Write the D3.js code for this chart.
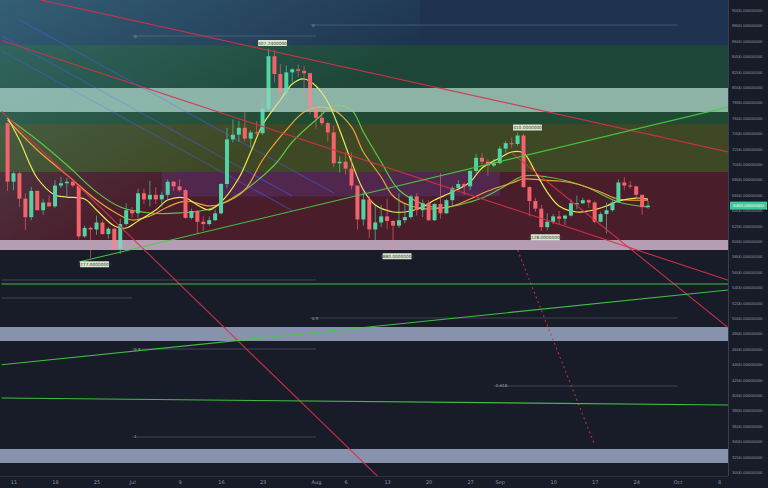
<!DOCTYPE html>
<html><head><meta charset="utf-8">
<script src="https://cdnjs.cloudflare.com/ajax/libs/d3/7.8.5/d3.min.js"></script>
<style>body{margin:0;background:#171b27;} svg{display:block}</style>
</head><body><svg id="c" width="768" height="488"></svg>
<script>
// ---------- DATA ----------
const dates = [
"06-10","06-11","06-12","06-13","06-14","06-15","06-16","06-17","06-18","06-19","06-20","06-21","06-22","06-23","06-24","06-25","06-26","06-27","06-28","06-29","06-30",
"07-01","07-02","07-03","07-04","07-05","07-06","07-07","07-08","07-09","07-10","07-11","07-12","07-13","07-14","07-15","07-16","07-17","07-18","07-19","07-20","07-21","07-22","07-23","07-24","07-25","07-26","07-27","07-28","07-29","07-30","07-31",
"08-01","08-02","08-03","08-04","08-05","08-06","08-07","08-08","08-09","08-10","08-11","08-12","08-13","08-14","08-15","08-16","08-17","08-18","08-19","08-20","08-21","08-22","08-23","08-24","08-25","08-26","08-27","08-28","08-29","08-30","08-31",
"09-01","09-02","09-03","09-04","09-05","09-06","09-07","09-08","09-09","09-10","09-11","09-12","09-13","09-14","09-15","09-16","09-17","09-18","09-19","09-20","09-21","09-22","09-23","09-24","09-25","09-26"];
const opens = [
7530,6770,6880,6550,6310,6650,6400,6500,6450,6720,6750,6770,6720,6060,6170,6150,6240,6090,6160,5900,6220,
6400,6360,6620,6540,6600,6540,6600,6770,6710,6660,6300,6390,6250,6220,6270,6360,6740,7320,7380,7470,7330,7410,7400,7720,8400,8170,7930,8190,8230,8210,8180,
7730,7600,7530,7410,7010,7030,6940,6720,6280,6540,6150,6240,6320,6260,6200,6270,6310,6580,6400,6490,6270,6480,6360,6530,6690,6740,6710,6910,7080,7030,6980,
7010,7200,7270,7260,7370,6700,6520,6420,6180,6250,6320,6290,6330,6490,6490,6530,6500,6250,6350,6400,6500,6760,6720,6710,6600,6440];
const highs = [
7540,6900,6900,6620,6700,6660,6540,6590,6790,6830,6820,6800,6740,6200,6190,6330,6280,6180,6170,6290,6490,
6440,6680,6680,6780,6700,6640,6800,6780,6800,6680,6420,6400,6320,6320,6410,6750,7470,7580,7560,7690,7440,7560,7800,8500,8480,8300,8280,8240,8290,8270,8180,
7760,7710,7540,7500,7100,7160,7150,6720,6630,6580,6480,6470,6550,6270,6620,6480,6600,6620,6540,6530,6490,6880,6550,6710,6790,6760,6920,7130,7140,7060,7070,
7230,7300,7340,7410,7390,6710,6560,6470,6360,6350,6390,6340,6540,6590,6560,6540,6520,6380,6500,6530,6800,6830,6780,6720,6600,6520];
const lows = [
6650,6660,6440,6140,6270,6400,6340,6450,6430,6690,6560,6700,6020,6040,5780,6080,6080,6030,5880,5830,6200,
6300,6300,6480,6450,6480,6450,6520,6650,6640,6290,6280,6100,6130,6200,6260,6340,6690,7280,7290,7290,7220,7380,7380,7700,8060,7860,7800,8060,8130,7860,7650,
7460,7500,7290,6960,6890,6860,6670,6150,6200,6040,6010,6180,6160,5880,6170,6230,6290,6330,6310,6260,6260,6290,6350,6460,6670,6600,6660,6880,6980,6850,6960,
7000,7150,7210,7240,6690,6320,6380,6130,6140,6220,6220,6210,6320,6410,6480,6430,6230,6240,6100,6380,6500,6660,6680,6560,6340,6420];
const closes = [
6770,6880,6550,6310,6650,6400,6500,6450,6720,6750,6770,6720,6060,6170,6150,6240,6090,6160,5900,6220,6400,
6360,6620,6540,6600,6540,6600,6770,6710,6660,6300,6390,6250,6220,6270,6360,6740,7320,7380,7470,7330,7410,7400,7720,8400,8170,7930,8190,8230,8210,8180,7730,
7600,7530,7410,7010,7030,6940,6720,6280,6540,6150,6240,6320,6260,6200,6270,6310,6580,6400,6490,6270,6480,6360,6530,6690,6740,6710,6910,7080,7030,6980,7010,
7200,7270,7260,7370,6700,6520,6420,6180,6250,6320,6290,6330,6490,6490,6530,6500,6250,6350,6400,6500,6760,6720,6710,6600,6440,6460];

// moving averages
const maYellowDates = ["06-10","06-12","06-15","06-18","06-20","06-23","06-25","06-28","06-30","07-02","07-05","07-07","07-10","07-12","07-14","07-16","07-19","07-21","07-23","07-26","07-28","07-30","08-01","08-03","08-05","08-07","08-09","08-11","08-14","08-16","08-19","08-21","08-24","08-27","08-29","09-01","09-03","09-05","09-07","09-09","09-11","09-14","09-16","09-19","09-21","09-24","09-26"];
const maYellowVals = [7600,7312,6818,6597,6571,6545,6403,6195,6169,6260,6403,6532,6558,6467,6403,6506,6818,7156,7506,7831,8039,8104,8013,7805,7442,7026,6662,6467,6377,6377,6442,6532,6636,6766,6948,7078,7156,7143,6896,6636,6455,6377,6390,6455,6519,6558,6545];
const maOrangeDates = ["06-10","06-15","06-20","06-25","06-28","07-01","07-04","07-07","07-10","07-14","07-16","07-20","07-23","07-27","07-30","08-02","08-04","08-07","08-09","08-12","08-14","08-17","08-20","08-24","08-27","08-30","09-03","09-05","09-08","09-11","09-14","09-18","09-21","09-26"];
const maOrangeVals = [7571,7182,6857,6532,6377,6273,6325,6442,6519,6455,6481,6662,7052,7442,7675,7740,7701,7481,7156,6831,6584,6455,6416,6455,6545,6649,6753,6805,6792,6779,6740,6636,6545,6532];
const maGreenDates = ["06-10","06-15","06-20","06-25","06-29","07-04","07-09","07-14","07-19","07-25","07-28","08-01","08-04","08-07","08-09","08-12","08-15","08-19","08-22","08-25","08-29","09-01","09-05","09-09","09-13","09-16","09-21","09-26"];
const maGreenVals = [7598,7312,6987,6636,6442,6364,6364,6416,6610,6987,7286,7571,7753,7701,7416,7026,6662,6481,6429,6467,6558,6675,6844,6831,6766,6688,6506,6442];

// price zones [top, bottom]
const zoneTops    = [9200,8545,7987,7675,7519,6896,6013];
const zoneBottoms = [8545,7987,7675,7519,6896,6013,5883];
const zoneColors  = ["#1d3350","#1d4638","#6f988c","#214a34","#3f4824","#4a1d2b","#9a8498"];
const bandTops    = [4883,3299];
const bandBottoms = [4701,3117];

// trend lines: [date1, price1, date2, price2]
const redLines = [
  ["2018-06-15",9140,"2018-10-10",7150],
  ["2018-06-09",8604,"2018-10-10",5480],
  ["2018-06-09",7682,"2018-08-15",2675],
  ["2018-09-03",7143,"2018-10-10",4844]
];
const redDotted = ["2018-09-04",5883,"2018-09-17",3351];
const greenLines = [
  ["2018-06-22",5727,"2018-10-10",7748],
  ["2018-06-09",4392,"2018-10-10",5368],
  ["2018-06-09",5442,"2018-10-10",5442],
  ["2018-06-09",3961,"2018-10-10",3870]
];
const blueLines = [
  ["2018-06-09",8468,"2018-07-28",6396],
  ["2018-06-09",8662,"2018-07-28",6584],
  ["2018-06-12",8870,"2018-08-04",6623]
];
// fib levels: [startDate, endDate, price, label]
const fibLevels = [
  ["2018-07-31","2018-10-01",8805,"0"],
  ["2018-07-01","2018-08-01",8662,"0"],
  ["2018-06-09","2018-08-01",5494,""],
  ["2018-06-09","2018-07-01",5260,""],
  ["2018-07-31","2018-10-01",5000,"0.5"],
  ["2018-07-01","2018-08-01",4597,"0.5"],
  ["2018-08-31","2018-10-01",4117,"0.618"],
  ["2018-07-01","2018-08-01",3455,"1"],
  ["2018-08-31","2018-10-01",3221,"1"]
];
const extremeLabels = [
  ["07-24",8507.24,"8507.24000000","top"],
  ["09-05",7410.00,"7410.00000000","top"],
  ["06-24",5777.00,"5777.00000000","bottom"],
  ["08-14",5880.00,"5880.00000000","bottom"],
  ["09-08",6128.00,"6128.00000000","bottom"]
];
const yTicks = d3.range(3000, 9001, 200);
const xTickDates = ["2018-06-11","2018-06-18","2018-06-25","2018-07-01","2018-07-09","2018-07-16","2018-07-23","2018-08-01","2018-08-06","2018-08-13","2018-08-20","2018-08-27","2018-09-01","2018-09-10","2018-09-17","2018-09-24","2018-10-01","2018-10-08"];
const xTickLabels = ["11","18","25","Jul","9","16","23","Aug","6","13","20","27","Sep","10","17","24","Oct","8"];

// ---------- CHART ----------
const W = 768, H = 488, PW = 728, PH = 476;
const parse = d3.utcParse("%Y-%m-%d");
const pd = s => parse(s.length === 5 ? "2018-" + s : s);
const svg = d3.select("#c");
const x = d3.scaleUtc().domain([pd("2018-06-11"), pd("2018-10-08")]).range([13.5, 719.2]);
const y = d3.scaleLinear().domain([3000, 9000]).range([472, 10]);

svg.append("rect").attr("width", W).attr("height", H).attr("fill", "#181c29");
const defs = svg.append("defs");
defs.append("clipPath").attr("id", "clip").append("rect").attr("width", PW).attr("height", PH);
const gr = defs.append("linearGradient").attr("id", "tealg").attr("x1", 0).attr("y1", 0).attr("x2", 1).attr("y2", 1);
gr.append("stop").attr("offset", "0%").attr("stop-color", "#5fb0b8").attr("stop-opacity", 0.35);
gr.append("stop").attr("offset", "60%").attr("stop-color", "#5fb0b8").attr("stop-opacity", 0.0);

const plot = svg.append("g").attr("clip-path", "url(#clip)");
plot.selectAll(".zone").data(zoneTops).join("rect")
  .attr("x", 0).attr("width", PW)
  .attr("y", d => y(d)).attr("height", (d, i) => y(zoneBottoms[i]) - y(d))
  .attr("fill", (d, i) => zoneColors[i]);
plot.append("rect").attr("x", 0).attr("y", 0).attr("width", 420).attr("height", 240).attr("fill", "url(#tealg)");
plot.append("rect").attr("x", x(pd("2018-07-06"))).attr("width", x(pd("2018-09-01")) - x(pd("2018-07-06")))
  .attr("y", y(6896)).attr("height", y(6580) - y(6896)).attr("fill", "#6a46b8").attr("opacity", 0.25);

const seg = (g, l, color, w, dash, op) => g.append("line")
  .attr("x1", x(pd(l[0]))).attr("y1", y(l[1])).attr("x2", x(pd(l[2]))).attr("y2", y(l[3]))
  .attr("stroke", color).attr("stroke-width", w).attr("stroke-dasharray", dash || null).attr("opacity", op || 1);

blueLines.forEach(l => seg(plot, l, "#4a5ad8", 1.2, null, 0.5));

fibLevels.forEach(f => {
  plot.append("line").attr("x1", x(pd(f[0]))).attr("x2", x(pd(f[1])))
    .attr("y1", y(f[2])).attr("y2", y(f[2])).attr("stroke", "#8a8f9c").attr("stroke-width", 0.6).attr("opacity", 0.6);
  if (f[3]) plot.append("text").attr("x", x(pd(f[0])) + 2).attr("y", y(f[2]) + 1.5)
    .attr("font-size", 4).attr("font-family", "DejaVu Sans").attr("fill", "#9aa0ab").text(f[3]);
});

plot.selectAll(".band").data(bandTops).join("rect")
  .attr("x", 0).attr("width", PW)
  .attr("y", d => y(d)).attr("height", (d, i) => y(bandBottoms[i]) - y(d))
  .attr("fill", "#8792ac");

const maLine = d3.line().x(d => x(pd(d[0]))).y(d => y(d[1])).curve(d3.curveCatmullRom);
[[maGreenDates, maGreenVals, "#5cc544"], [maOrangeDates, maOrangeVals, "#e9a43a"], [maYellowDates, maYellowVals, "#e8e850"]]
  .forEach(([ds, vs, c]) => plot.append("path").datum(ds.map((d, i) => [d, vs[i]]))
    .attr("d", maLine).attr("fill", "none").attr("stroke", c).attr("stroke-width", 1.2));

const cw = 4;
const cg = plot.append("g");
dates.forEach((d, i) => {
  const up = closes[i] >= opens[i];
  const col = up ? "#52d3a3" : "#f2636c";
  const cx = x(pd(d));
  cg.append("line").attr("x1", cx).attr("x2", cx).attr("y1", y(highs[i])).attr("y2", y(lows[i]))
    .attr("stroke", col).attr("stroke-width", 0.8).attr("opacity", 0.8);
  const t = y(Math.max(opens[i], closes[i])), b = y(Math.min(opens[i], closes[i]));
  cg.append("rect").attr("x", cx - cw / 2).attr("width", cw).attr("y", t).attr("height", Math.max(1, b - t)).attr("fill", col);
});

plot.append("rect").attr("x", 0).attr("width", PW).attr("y", y(7987)).attr("height", y(7675) - y(7987))
  .attr("fill", "#c6e6da").attr("opacity", 0.35);
plot.append("rect").attr("x", 0).attr("width", PW).attr("y", y(6013)).attr("height", y(5883) - y(6013))
  .attr("fill", "#e8cde6").attr("opacity", 0.35);

redLines.forEach(l => seg(plot, l, "#d9304a", 1.2, null, 0.85));
seg(plot, redDotted, "#d9304a", 1.2, "2,3", 0.8);
greenLines.forEach(l => seg(plot, l, "#44d044", 1.1, null, 0.9));

extremeLabels.forEach(e => {
  const cx = x(pd(e[0])) + 4;
  const cy = e[3] === "top" ? y(e[1]) - 5 : y(e[1]) + 6;
  plot.append("rect").attr("x", cx - 14.5).attr("y", cy - 3).attr("width", 29).attr("height", 6)
    .attr("fill", "#dbe6cf").attr("rx", 0.5);
  plot.append("text").attr("x", cx).attr("y", cy + 1.6).attr("text-anchor", "middle")
    .attr("font-size", 4.3).attr("font-family", "DejaVu Sans").attr("fill", "#3a3f34").text(e[2]);
});

svg.append("line").attr("x1", PW + 0.5).attr("x2", PW + 0.5).attr("y1", 0).attr("y2", PH).attr("stroke", "#3a3f4f");
svg.append("line").attr("x1", 0).attr("x2", PW).attr("y1", PH + 0.5).attr("y2", PH + 0.5).attr("stroke", "#2c3140");
const yAxis = d3.axisRight(y).tickValues(yTicks).tickSize(0).tickPadding(4).tickFormat(d3.format(".8f"));
const ya = svg.append("g").attr("transform", `translate(${PW},0)`).call(yAxis);
ya.select(".domain").remove();
ya.selectAll("text").attr("font-size", 4.4).attr("font-family", "Liberation Sans").attr("fill", "#8e94a2");

const xAxis = d3.axisBottom(x).tickValues(xTickDates.map(pd)).tickSize(0).tickPadding(4)
  .tickFormat((d, i) => xTickLabels[i]);
const xa = svg.append("g").attr("transform", `translate(0,${PH})`).call(xAxis);
xa.select(".domain").remove();
xa.selectAll("text").attr("font-size", 5).attr("font-family", "DejaVu Sans").attr("fill", "#8e94a2");

const last = closes[closes.length - 1];
svg.append("rect").attr("x", PW + 2).attr("y", y(last) - 4).attr("width", 37).attr("height", 8).attr("fill", "#3fc89c");
svg.append("text").attr("x", PW + 20.5).attr("y", y(last) + 1.6).attr("text-anchor", "middle")
  .attr("font-size", 4.4).attr("font-family", "Liberation Sans").attr("fill", "#e8fff6").text(d3.format(".8f")(last));
</script></body></html>
